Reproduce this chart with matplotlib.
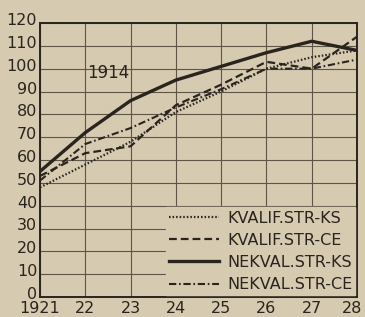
import matplotlib
matplotlib.use("Agg")
import matplotlib.pyplot as plt
from matplotlib import font_manager as fm
import matplotlib.transforms as mtransforms

years = [1921, 1922, 1923, 1924, 1925, 1926, 1927, 1928]
year_labels = ["1921", "22", "23", "24", "25", "26", "27", "28"]
kvalif_ks = [48, 58, 68, 81, 90, 100, 105, 108]
kvalif_ce = [53, 63, 66, 84, 93, 103, 100, 114]
nekval_ks = [55, 72, 86, 95, 101, 107, 112, 108]
nekval_ce = [51, 67, 74, 83, 91, 100, 100, 104]
series_labels = ["KVALIF.STR-KS", "KVALIF.STR-CE", "NEKVAL.STR-KS", "NEKVAL.STR-CE"]
y_ticks = list(range(0, 121, 10))

names = {f.name for f in fm.fontManager.ttflist}
fam = ["Liberation Sans Narrow", "DejaVu Sans"] if "Liberation Sans Narrow" in names else ["DejaVu Sans"]
plt.rcParams['font.family'] = fam

bg = "#d6cab1"
ink = "#2a241e"
grid_c = "#5e5547"

fig = plt.figure(figsize=(3.65, 3.17), dpi=100, facecolor=bg)
ax = fig.add_axes([40/365, 20/317, 317/365, 274/317], facecolor=bg)

ax.plot(years, kvalif_ks, color=ink, lw=1.6, linestyle=(0, (0.7, 0.9)), label=series_labels[0])
ax.plot(years, kvalif_ce, color=ink, lw=1.6, linestyle=(0, (3.5, 1.8)), label=series_labels[1])
ax.plot(years, nekval_ks, color=ink, lw=2.4, linestyle='-', label=series_labels[2])
ax.plot(years, nekval_ce, color=ink, lw=1.5, linestyle=(0, (3.5, 1.3, 0.8, 1.3)), label=series_labels[3])

ax.set_xlim(1921, 1928)
ax.set_ylim(0, 120)
ax.set_xticks(years)
ax.set_xticklabels(year_labels)
ax.set_yticks(y_ticks)
ax.set_yticklabels([str(v) for v in y_ticks])
ax.tick_params(length=0, labelsize=11.5, colors=ink)
ax.tick_params(axis='y', pad=2)
ax.tick_params(axis='x', pad=3)
shift = mtransforms.ScaledTranslation(0, 4/100, fig.dpi_scale_trans)
for lab in ax.get_yticklabels():
    lab.set_transform(lab.get_transform() + shift)
xl = ax.get_xticklabels()
xl[-1].set_transform(xl[-1].get_transform() + mtransforms.ScaledTranslation(-5/100, 0, fig.dpi_scale_trans))
ax.grid(True, color=grid_c, lw=0.8)
ax.set_axisbelow(True)
for s in ax.spines.values():
    s.set_color(ink)
    s.set_linewidth(1.4)

ax.text(1922.5, 98, "1914", ha='center', va='center', fontsize=12, color=ink)

leg = ax.legend(loc='lower right', bbox_to_anchor=(1.0, 0.0), borderaxespad=0.1,
                fontsize=11.5, handlelength=3.1, handletextpad=0.5,
                labelspacing=0.45, frameon=True, facecolor=bg, edgecolor=bg,
                framealpha=1.0, fancybox=False, borderpad=0.2)
for t in leg.get_texts():
    t.set_color(ink)

fig.savefig("out.png", dpi=100, facecolor=bg)
